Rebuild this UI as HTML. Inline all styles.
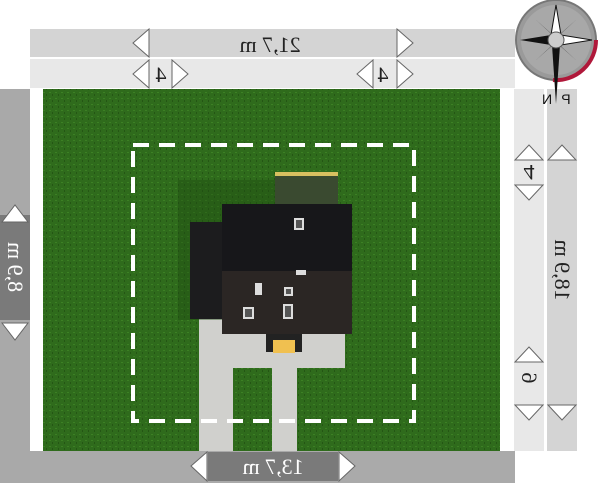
<!DOCTYPE html>
<html><head><meta charset="utf-8"><style>
html,body{margin:0;padding:0;background:#fff;width:602px;height:483px;overflow:hidden}
</style></head><body>
<svg width="602" height="483" viewBox="0 0 602 483" xmlns="http://www.w3.org/2000/svg" font-family="Liberation Serif, serif">
<defs>
<pattern id="g" width="6" height="6" patternUnits="userSpaceOnUse">
<rect width="6" height="6" fill="#2f6b1c"/><rect x="1" y="2" width="2" height="1" fill="#3c8024"/><rect x="4" y="4" width="1" height="2" fill="#245614"/>
</pattern>
</defs>
<rect x="30" y="29" width="485" height="28" fill="#d4d4d4"/>
<rect x="30" y="59" width="485" height="29" fill="#e8e8e8"/>
<rect x="0" y="89" width="30" height="394" fill="#a9a9a9"/>
<rect x="30" y="451" width="485" height="32" fill="#aaaaaa"/>
<rect x="514" y="89" width="30" height="362" fill="#e8e8e8"/>
<rect x="547" y="89" width="30" height="362" fill="#d4d4d4"/>
<rect x="43" y="89" width="457" height="362" fill="url(#g)"/>
<rect x="199" y="318" width="146" height="50" fill="#d0d0cd"/>
<rect x="199" y="368" width="34" height="83" fill="#d0d0cd"/>
<rect x="272" y="368" width="25" height="83" fill="#d0d0cd"/>
<rect x="178" y="180" width="100" height="140" fill="#1f4a12" opacity="0.4"/>
<rect x="275" y="172" width="63" height="34" fill="#3a4a30"/>
<rect x="275" y="172" width="63" height="4" fill="#d8c060"/>
<rect x="190" y="222" width="33" height="97" fill="#1c1c1e"/>
<rect x="222" y="204" width="130" height="67" fill="#17171a"/>
<rect x="222" y="271" width="130" height="63" fill="#2b2624"/>
<rect x="294" y="218" width="10" height="12" fill="#ddd"/><rect x="296" y="220" width="6" height="8" fill="#555"/>
<rect x="296" y="270" width="10" height="5" fill="#ddd"/>
<rect x="255" y="283" width="7" height="12" fill="#ddd"/>
<rect x="284" y="287" width="9" height="9" fill="#ddd"/><rect x="286" y="289" width="5" height="5" fill="#555"/>
<rect x="243" y="307" width="11" height="12" fill="#ddd"/><rect x="245" y="309" width="7" height="8" fill="#555"/>
<rect x="283" y="304" width="10" height="15" fill="#ddd"/><rect x="285" y="306" width="6" height="11" fill="#555"/>
<rect x="266" y="334" width="36" height="18" fill="#222"/>
<rect x="273" y="340" width="22" height="13" fill="#f0c050"/>
<rect x="133" y="145" width="281" height="276" fill="none" stroke="#fff" stroke-width="4" stroke-dasharray="16,10"/>
<rect x="208" y="452" width="130" height="29" fill="#7a7a7a"/>
<text x="273" y="474" font-size="22" fill="#fff" text-anchor="middle" transform="translate(546,0) scale(-1,1)">13,7 m</text>
<rect x="0" y="215" width="30" height="105" fill="#7a7a7a"/>
<text font-size="22" fill="#fff" text-anchor="middle" transform="translate(15,267) rotate(90) scale(-1,1)" y="7">8,9 m</text>
<text x="270" y="52" font-size="22" fill="#222" text-anchor="middle" transform="translate(540,0) scale(-1,1)">21,7 m</text>
<text x="161" y="82" font-size="22" fill="#222" text-anchor="middle" transform="translate(322,0) scale(-1,1)">4</text>
<text x="383" y="82" font-size="22" fill="#222" text-anchor="middle" transform="translate(766,0) scale(-1,1)">4</text>
<text font-size="22" fill="#222" text-anchor="middle" transform="translate(529,172) rotate(180) scale(-1,1)" y="7">4</text>
<text font-size="22" fill="#222" text-anchor="middle" transform="translate(529,378) rotate(90) scale(-1,1)" y="7">6</text>
<text font-size="22" fill="#222" text-anchor="middle" transform="translate(562,270) rotate(90) scale(-1,1)" y="7">18,9 m</text>
<g fill="#fff" stroke="#666" stroke-width="1">
<polygon points="149,29 133,43 149,57"/><polygon points="397,29 413,43 397,57"/>
<polygon points="149,60 133,74 149,88"/><polygon points="172,60 188,74 172,88"/>
<polygon points="373,60 357,74 373,88"/><polygon points="397,60 413,74 397,88"/>
<polygon points="207,452 191,466 207,481"/><polygon points="339,452 355,466 339,481"/>
<polygon points="2,222 15,205 28,222"/><polygon points="2,323 15,340 28,323"/>
<polygon points="515,160 529,145 543,160"/><polygon points="515,185 529,200 543,185"/>
<polygon points="548,160 562,145 576,160"/>
<polygon points="515,362 529,347 543,362"/><polygon points="515,405 529,420 543,405"/>
<polygon points="548,405 562,420 576,405"/>
</g>
<circle cx="556" cy="40" r="40" fill="#9a9a9a" stroke="#777" stroke-width="2"/>
<circle cx="556" cy="40" r="35" fill="#a8a8a8"/>
<path d="M596,40 A40,40 0 0 1 553,80" stroke="#b0183a" stroke-width="4" fill="none"/>
<polygon points="556,5 561,35 556,40 551,35" fill="#fff" stroke="#111"/>
<polygon points="556,104 560,45 556,40 552,45" fill="#111"/>
<polygon points="520,40 551,35 556,40 551,45" fill="#111"/>
<polygon points="592,40 561,35 556,40 561,45" fill="#fff" stroke="#111"/>
<polygon points="535,19 554,36 558,40" fill="#111"/><polygon points="577,19 558,36 554,40" fill="#111"/>
<polygon points="535,61 554,44 558,40" fill="#111"/><polygon points="577,61 558,44 554,40" fill="#111"/>
<circle cx="556" cy="40" r="8" fill="#ccc" stroke="#555"/>
<text x="547" y="104" font-size="14" font-family="Liberation Sans, sans-serif" fill="#111" text-anchor="middle" transform="translate(1094,0) scale(-1,1)">N</text>
<text x="566" y="104" font-size="14" font-family="Liberation Sans, sans-serif" fill="#111" text-anchor="middle" transform="translate(1132,0) scale(-1,1)">P</text>
</svg>
</body></html>
